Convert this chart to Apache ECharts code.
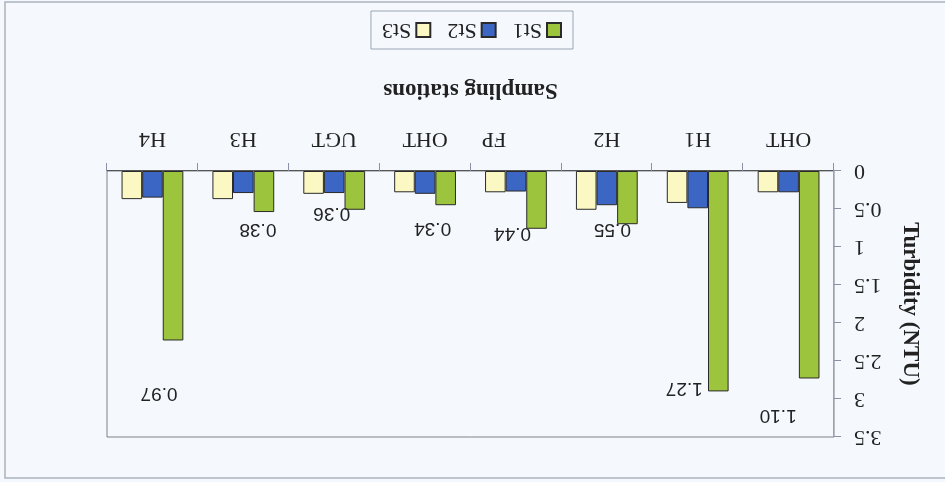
<!DOCTYPE html>
<html>
<head>
<meta charset="utf-8">
<script src="https://cdn.jsdelivr.net/npm/echarts@6/dist/echarts.min.js"></script>
<style>
  html, body { margin: 0; padding: 0; background: #f5f9fd; }
  #chart { width: 945px; height: 482px; transform: rotate(180deg); transform-origin: 50% 50%; }
</style>
</head>
<body>
<div id="chart"></div>
<script>
// Turbidity at each sampling station, three sampling rounds
const stations = ['OHT', 'H1', 'H2', 'FP', 'OHT', 'UGT', 'H3', 'H4'];
const st1 = [2.73, 2.90, 0.70, 0.76, 0.45, 0.51, 0.54, 2.23];
const st2 = [0.28, 0.49, 0.45, 0.27, 0.30, 0.29, 0.29, 0.35];
const st3 = [0.28, 0.42, 0.51, 0.28, 0.28, 0.30, 0.37, 0.37];
// Printed annotations next to the St1 bars
const notes = ['1.10', '1.27', '0.55', '0.44', '0.34', '0.36', '0.38', '0.97'];
const yTicks = { min: 0, max: 3.5, interval: 0.5 };

// label nudges for the annotations (layout only)
const noteDx = [31, 34, 15, 24, 13, 23, 6, 14];
const noteDy = [-22, 18, 9, 10, -9, 11, -3, -38];

const serif = 'Liberation Serif, Times New Roman, serif';
const sans = 'Liberation Sans, Arial, sans-serif';

const chart = echarts.init(document.getElementById('chart'));
const barBorder = { borderColor: '#2a2a2a', borderWidth: 1 };

chart.setOption({
  backgroundColor: '#f5f9fd',
  animation: false,
  graphic: [{
    type: 'rect', silent: true,
    shape: { x: -12, y: 4, width: 952, height: 476 },
    style: { fill: 'none', stroke: '#a9b3bf', lineWidth: 1.5 }
  }],
  grid: { left: 111, right: 107, top: 45, bottom: 171, show: true, borderColor: '#7d828a', borderWidth: 1, backgroundColor: 'transparent' },
  legend: {
    left: 372, top: 433, width: 205, height: 39,
    padding: [8, 11, 8, 11],
    borderColor: '#9aa5b4', borderWidth: 1,
    icon: 'rect',
    itemWidth: 14, itemHeight: 14, itemGap: 16,
    textStyle: { fontFamily: serif, fontSize: 22, color: '#222' },
    data: ['St1', 'St2', 'St3']
  },
  xAxis: {
    type: 'category',
    data: stations.map(s => s === 'FP' ? { value: s, textStyle: { padding: [0, 0, 0, 44] } } : s),
    name: 'Sampling stations', nameLocation: 'middle', nameGap: 70,
    nameTextStyle: { fontFamily: serif, fontSize: 23, fontWeight: 'bold', color: '#222' },
    axisLine: { lineStyle: { color: '#555', width: 1 } },
    axisTick: { show: true, length: 8, lineStyle: { color: '#8a90a8' } },
    axisLabel: { fontFamily: serif, fontSize: 22, color: '#222', margin: 21 }
  },
  yAxis: {
    type: 'value', min: yTicks.min, max: yTicks.max, interval: yTicks.interval,
    name: 'Turbidity (NTU)', nameLocation: 'middle', nameGap: 64,
    nameTextStyle: { fontFamily: serif, fontSize: 23, fontWeight: 'bold', color: '#222' },
    axisLine: { show: true, lineStyle: { color: '#9aa0b8' } },
    axisTick: { show: true, length: 7, lineStyle: { color: '#8a90a8' } },
    splitLine: { show: false },
    axisLabel: { fontFamily: serif, fontSize: 22, color: '#222', margin: 20 }
  },
  series: [
    {
      name: 'St1', type: 'bar', barGap: '0%', barCategoryGap: '32%',
      itemStyle: Object.assign({ color: '#9cc43c' }, barBorder),
      data: st1.map((v, i) => ({
        value: v,
        label: { offset: [noteDx[i], noteDy[i]] }
      })),
      label: {
        show: true, position: 'top', distance: 5,
        fontFamily: sans, fontSize: 19, color: '#222',
        formatter: p => notes[p.dataIndex]
      }
    },
    {
      name: 'St2', type: 'bar', barGap: '0%', barCategoryGap: '32%',
      itemStyle: Object.assign({ color: '#3c66c4' }, barBorder),
      data: st2
    },
    {
      name: 'St3', type: 'bar', barGap: '0%', barCategoryGap: '32%',
      itemStyle: Object.assign({ color: '#fcf8c4' }, barBorder),
      data: st3
    }
  ]
});
</script>
</body>
</html>
